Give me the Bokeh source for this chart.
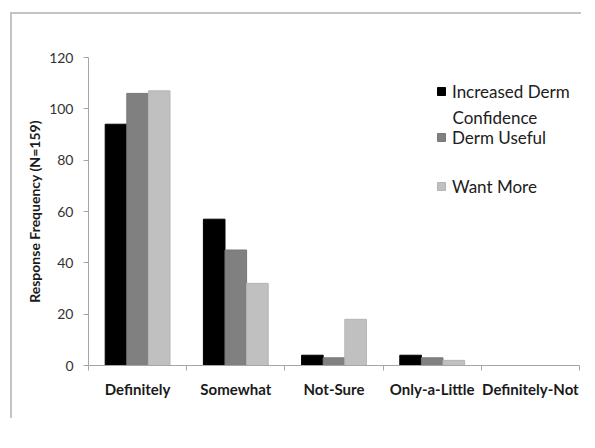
from bokeh.plotting import figure
from bokeh.models import Range1d, FixedTicker, Legend, LegendItem, Label
from bokeh.embed import file_html
from bokeh.resources import INLINE

categories = ["Definitely", "Somewhat", "Not-Sure", "Only-a-Little", "Definitely-Not"]
series_names = ["Increased Derm", "Derm Useful", "Want More"]
increased_conf = [94, 57, 4, 4, 0]
derm_useful = [106, 45, 3, 3, 0]
want_more = [107, 32, 18, 2, 0]
y_ticks = [0, 20, 40, 60, 80, 100, 120]

colors = ["#000000", "#808080", "#c0c0c0"]
line_colors = ["#000000", "#787878", "#b4b4b4"]
offsets = [-0.22, 0.0, 0.22]
series = [increased_conf, derm_useful, want_more]

FONT = "Lato"

p = figure(width=571, height=406, output_backend="svg", toolbar_location=None,
           x_range=Range1d(0, 5), y_range=Range1d(0, 120),
           min_border_left=76, min_border_right=4, min_border_top=43, min_border_bottom=55)
p.styles = {"box-shadow": "-2px -2px 0 0 #c4c4c4",
            "margin-left": "12px", "margin-top": "14px", "background": "white"}
p.outline_line_color = None
p.xgrid.visible = False
p.ygrid.visible = False

renderers = []
for vals, off, c, lc in zip(series, offsets, colors, line_colors):
    xs = [i + 0.5 + off for i in range(len(categories))]
    r = p.vbar(x=xs, top=vals, width=0.22, fill_color=c, line_color=lc, line_width=1)
    renderers.append(r)

# y axis
ya = p.yaxis[0]
ya.ticker = FixedTicker(ticks=y_ticks)
ya.axis_line_color = "#a6a6a6"
ya.major_tick_line_color = "#a6a6a6"
ya.major_tick_out = 5
ya.major_tick_in = 0
ya.minor_tick_line_color = None
ya.major_label_text_font = FONT
ya.major_label_text_font_size = "14px"
ya.major_label_text_color = "#333333"
ya.major_label_standoff = 10
ya.axis_label = "Response Frequency (N=159)"
ya.axis_label_text_font = FONT
ya.axis_label_text_font_size = "14px"
ya.axis_label_text_font_style = "bold"
ya.axis_label_text_color = "#1a1a1a"
ya.axis_label_standoff = 3

# x axis
xa = p.xaxis[0]
xa.ticker = FixedTicker(ticks=[i + 0.5 for i in range(len(categories))],
                        minor_ticks=list(range(len(categories) + 1)))
xa.major_label_overrides = {i + 0.5: c for i, c in enumerate(categories)}
xa.axis_line_color = "#a6a6a6"
xa.major_tick_line_color = None
xa.major_tick_out = 0
xa.major_tick_in = 0
xa.minor_tick_line_color = "#a6a6a6"
xa.minor_tick_out = 5
xa.minor_tick_in = 0
xa.major_label_text_font = FONT
xa.major_label_text_font_size = "15px"
xa.major_label_text_font_style = "bold"
xa.major_label_text_color = "#1a1a1a"
xa.major_label_standoff = 9

# legends (frame-relative placement)
leg_pos = [(348, 263.5), (348, 217.5), (348, 168.5)]
for name, r, pos in zip(series_names, renderers, leg_pos):
    lg = Legend(items=[LegendItem(label=name, renderers=[r])], location=pos,
                padding=0, margin=0, spacing=0, glyph_width=10, glyph_height=10,
                label_height=20, label_standoff=6, border_line_color=None,
                background_fill_alpha=0, label_text_font=FONT,
                label_text_font_size="17px", label_text_color="#202020")
    p.add_layout(lg, "center")

p.add_layout(Label(x=364, y=248, x_units="screen", y_units="screen", text="Confidence",
                   text_font=FONT, text_font_size="17px", text_color="#202020",
                   text_baseline="middle"))

open("out.html", "w").write(file_html(p, INLINE))
